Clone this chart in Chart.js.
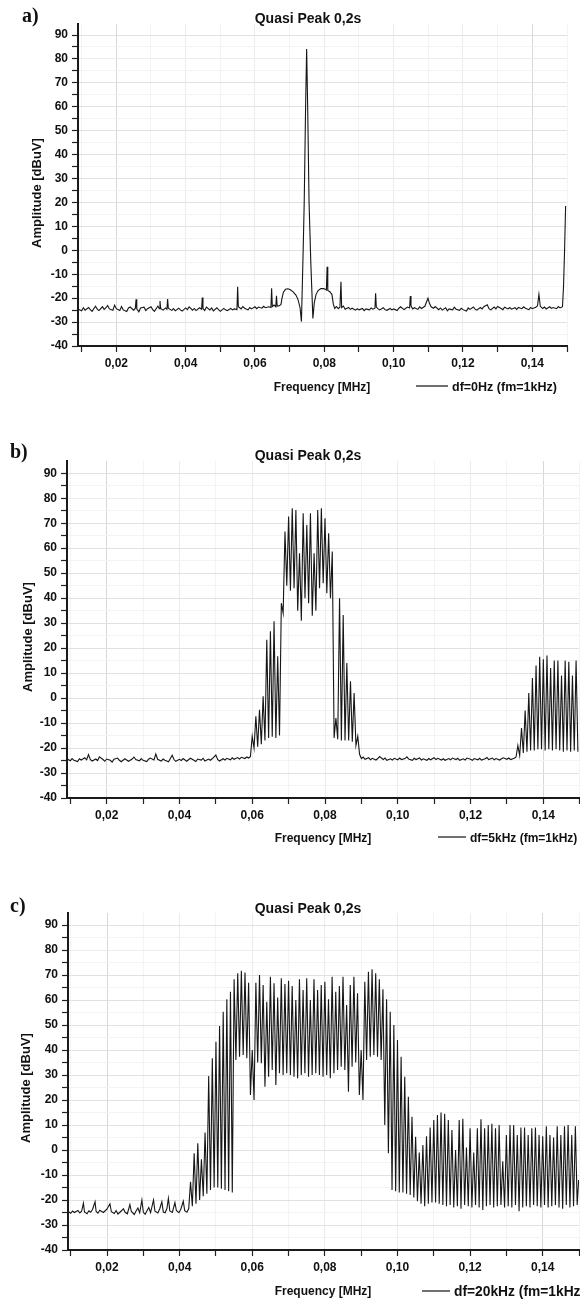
<!DOCTYPE html>
<html>
<head>
<meta charset="utf-8">
<script src="https://cdn.jsdelivr.net/npm/chart.js@4.4.1/dist/chart.umd.min.js"></script>
<style>
  body { margin: 0; background: #fff; }
  .panel { position: absolute; left: 0; width: 580px; }
  canvas { display: block; }
</style>
</head>
<body>
<div class="panel" style="top:0px"><canvas id="chartA" width="580" height="400"></canvas></div>
<div class="panel" style="top:430px"><canvas id="chartB" width="580" height="430"></canvas></div>
<div class="panel" style="top:860px"><canvas id="chartC" width="580" height="443"></canvas></div>
<script>
// texts
const titleText = 'Quasi Peak 0,2s';
const xTitle = 'Frequency [MHz]';
const yTitle = 'Amplitude [dBuV]';
const seriesNames = ['df=0Hz (fm=1kHz)', 'df=5kHz (fm=1kHz)', 'df=20kHz (fm=1kHz)'];

// axis ticks (labels only on every second one)
const xTickVals = [0.01, 0.02, 0.03, 0.04, 0.05, 0.06, 0.07, 0.08, 0.09, 0.10, 0.11, 0.12, 0.13, 0.14, 0.15];
const yTickVals = [-40, -35, -30, -25, -20, -15, -10, -5, 0, 5, 10, 15, 20, 25, 30, 35, 40, 45, 50, 55, 60, 65, 70, 75, 80, 85, 90];

// a) df=0Hz  -- frequency [MHz], amplitude [dBuV]
const freqA = [
  0.0090, 0.0100, 0.0105, 0.0110, 0.0120, 0.0125, 0.0130, 0.0140, 0.0145, 0.0150,
  0.0160, 0.0165, 0.0170, 0.0175, 0.0180, 0.0190, 0.0195, 0.0200, 0.0210, 0.0215,
  0.0220, 0.0230, 0.0235, 0.0240, 0.0250, 0.0255, 0.0257, 0.0259, 0.0265, 0.0270,
  0.0280, 0.0285, 0.0290, 0.0300, 0.0305, 0.0310, 0.0320, 0.0324, 0.0326, 0.0328,
  0.0335, 0.0342, 0.0346, 0.0348, 0.0350, 0.0360, 0.0365, 0.0370, 0.0380, 0.0385,
  0.0390, 0.0400, 0.0405, 0.0410, 0.0420, 0.0425, 0.0430, 0.0440, 0.0446, 0.0448,
  0.0450, 0.0455, 0.0460, 0.0470, 0.0475, 0.0480, 0.0490, 0.0495, 0.0500, 0.0510,
  0.0515, 0.0520, 0.0530, 0.0535, 0.0540, 0.0548, 0.0550, 0.0552, 0.0560, 0.0565,
  0.0570, 0.0580, 0.0585, 0.0590, 0.0600, 0.0605, 0.0610, 0.0620, 0.0625, 0.0630,
  0.0640, 0.0646, 0.0648, 0.0650, 0.0655, 0.0660, 0.0662, 0.0664, 0.0670, 0.0675,
  0.0678, 0.0682, 0.0688, 0.0695, 0.0702, 0.0710, 0.0718, 0.0724, 0.0730, 0.0734,
  0.0739, 0.0742, 0.0746, 0.0749, 0.0752, 0.0756, 0.0761, 0.0767, 0.0771, 0.0776,
  0.0782, 0.0790, 0.0798, 0.0804, 0.0806, 0.0808, 0.0810, 0.0816, 0.0822, 0.0826,
  0.0830, 0.0835, 0.0840, 0.0845, 0.0848, 0.0850, 0.0855, 0.0860, 0.0870, 0.0875,
  0.0880, 0.0890, 0.0895, 0.0900, 0.0910, 0.0915, 0.0920, 0.0930, 0.0935, 0.0940,
  0.0946, 0.0948, 0.0950, 0.0955, 0.0960, 0.0970, 0.0975, 0.0980, 0.0990, 0.0995,
  0.1000, 0.1010, 0.1015, 0.1020, 0.1030, 0.1035, 0.1040, 0.1046, 0.1048, 0.1050,
  0.1055, 0.1060, 0.1070, 0.1075, 0.1080, 0.1090, 0.1095, 0.1099, 0.1103, 0.1108,
  0.1115, 0.1120, 0.1130, 0.1135, 0.1140, 0.1150, 0.1155, 0.1160, 0.1170, 0.1175,
  0.1180, 0.1190, 0.1195, 0.1200, 0.1210, 0.1215, 0.1220, 0.1230, 0.1235, 0.1240,
  0.1250, 0.1255, 0.1260, 0.1270, 0.1275, 0.1280, 0.1290, 0.1295, 0.1300, 0.1310,
  0.1315, 0.1320, 0.1330, 0.1335, 0.1340, 0.1350, 0.1355, 0.1360, 0.1370, 0.1375,
  0.1380, 0.1390, 0.1395, 0.1400, 0.1410, 0.1415, 0.1419, 0.1423, 0.1430, 0.1435,
  0.1440, 0.1450, 0.1455, 0.1460, 0.1470, 0.1475, 0.1480, 0.1487, 0.1490, 0.1493,
  0.1496
];
const ampA = [
  -24.6, -25.3, -24.0, -25.0, -23.9, -24.8, -25.5, -23.4, -24.6, -25.2,
  -23.6, -24.7, -24.0, -23.1, -24.5, -25.1, -22.9, -24.4, -25.2, -23.5,
  -24.9, -25.6, -24.1, -23.7, -25.0, -24.2, -20.5, -24.5, -25.7, -24.1,
  -23.8, -25.2, -24.4, -23.6, -24.8, -25.5, -23.3, -24.4, -21.2, -24.3,
  -25.0, -24.1, -24.6, -20.4, -24.2, -25.1, -24.4, -25.3, -24.2, -24.9,
  -25.4, -24.1, -24.8, -23.6, -25.0, -24.3, -25.2, -24.0, -24.6, -19.7,
  -24.3, -25.2, -23.7, -24.9, -24.1, -25.3, -24.0, -24.8, -25.5, -24.3,
  -24.9, -25.2, -24.3, -24.9, -24.5, -24.8, -15.2, -23.6, -24.5, -23.5,
  -24.2, -24.9, -23.9, -24.5, -23.6, -24.4, -23.7, -24.2, -23.4, -24.0,
  -23.6, -23.9, -15.9, -23.5, -22.9, -23.6, -19.0, -23.3, -23.2, -22.6,
  -20.0, -17.5, -16.3, -16.1, -16.5, -17.4, -18.7, -20.5, -24.0, -29.8,
  0.0, 20.0, 60.0, 84.1, 60.0, 20.0, -5.0, -28.5, -22.0, -18.5,
  -16.8, -16.0, -16.0, -16.4, -16.6, -6.9, -16.8, -17.3, -18.5, -22.5,
  -24.3, -23.5, -24.4, -23.8, -13.1, -23.9, -23.3, -24.6, -23.9, -24.7,
  -24.2, -25.0, -24.4, -24.9, -24.3, -25.2, -24.5, -24.9, -24.1, -24.6,
  -24.2, -18.0, -23.7, -24.5, -24.9, -24.0, -24.8, -25.1, -24.3, -24.9,
  -24.5, -25.2, -24.2, -23.6, -24.8, -24.2, -23.7, -24.1, -19.1, -23.2,
  -24.5, -24.0, -24.7, -23.6, -24.3, -23.4, -21.5, -20.0, -22.0, -23.6,
  -24.2, -23.5, -24.8, -24.1, -25.0, -24.0, -25.3, -24.5, -24.9, -23.8,
  -24.6, -25.1, -24.2, -24.8, -25.4, -24.1, -24.7, -23.7, -24.6, -25.0,
  -23.9, -24.5, -23.6, -22.8, -24.4, -24.9, -23.7, -24.5, -23.5, -24.3,
  -24.8, -23.8, -24.5, -23.9, -24.6, -24.0, -24.7, -23.9, -24.4, -23.6,
  -24.2, -24.8, -23.9, -24.4, -23.8, -23.2, -18.4, -23.4, -24.3, -23.7,
  -24.5, -23.6, -24.3, -23.9, -24.4, -23.5, -24.1, -23.6, -15.0, 0.0,
  18.5
];

// b) df=5kHz
const freqB = [
  0.0091, 0.0100, 0.0105, 0.0110, 0.0120, 0.0125, 0.0130, 0.0140, 0.0145, 0.0150,
  0.0155, 0.0160, 0.0170, 0.0175, 0.0180, 0.0190, 0.0195, 0.0200, 0.0210, 0.0215,
  0.0220, 0.0230, 0.0235, 0.0240, 0.0250, 0.0255, 0.0260, 0.0270, 0.0275, 0.0280,
  0.0290, 0.0295, 0.0300, 0.0310, 0.0315, 0.0320, 0.0330, 0.0335, 0.0340, 0.0350,
  0.0355, 0.0360, 0.0370, 0.0375, 0.0380, 0.0385, 0.0390, 0.0400, 0.0405, 0.0410,
  0.0420, 0.0425, 0.0430, 0.0440, 0.0445, 0.0450, 0.0460, 0.0465, 0.0470, 0.0480,
  0.0485, 0.0490, 0.0500, 0.0505, 0.0510, 0.0520, 0.0525, 0.0530, 0.0540, 0.0545,
  0.0550, 0.0560, 0.0565, 0.0570, 0.0580, 0.0585, 0.0590, 0.0595, 0.0600, 0.0605,
  0.0610, 0.0615, 0.0620, 0.0625, 0.0630, 0.0635, 0.0640, 0.0645, 0.0650, 0.0655,
  0.0660, 0.0665, 0.0670, 0.0675, 0.0680, 0.0685, 0.0690, 0.0695, 0.0700, 0.0705,
  0.0710, 0.0715, 0.0720, 0.0725, 0.0730, 0.0735, 0.0740, 0.0745, 0.0750, 0.0755,
  0.0760, 0.0765, 0.0770, 0.0775, 0.0780, 0.0785, 0.0790, 0.0795, 0.0800, 0.0805,
  0.0810, 0.0815, 0.0820, 0.0825, 0.0830, 0.0835, 0.0840, 0.0845, 0.0850, 0.0855,
  0.0860, 0.0865, 0.0870, 0.0875, 0.0880, 0.0885, 0.0890, 0.0895, 0.0900, 0.0905,
  0.0910, 0.0920, 0.0925, 0.0930, 0.0940, 0.0945, 0.0950, 0.0960, 0.0965, 0.0970,
  0.0980, 0.0985, 0.0990, 0.1000, 0.1005, 0.1010, 0.1020, 0.1025, 0.1030, 0.1040,
  0.1045, 0.1050, 0.1060, 0.1065, 0.1070, 0.1080, 0.1085, 0.1090, 0.1100, 0.1105,
  0.1110, 0.1120, 0.1125, 0.1130, 0.1140, 0.1145, 0.1150, 0.1160, 0.1165, 0.1170,
  0.1180, 0.1185, 0.1190, 0.1200, 0.1205, 0.1210, 0.1220, 0.1225, 0.1230, 0.1240,
  0.1245, 0.1250, 0.1260, 0.1265, 0.1270, 0.1280, 0.1285, 0.1290, 0.1300, 0.1305,
  0.1310, 0.1320, 0.1325, 0.1330, 0.1335, 0.1340, 0.1345, 0.1350, 0.1355, 0.1360,
  0.1365, 0.1370, 0.1375, 0.1380, 0.1385, 0.1390, 0.1395, 0.1400, 0.1405, 0.1410,
  0.1415, 0.1420, 0.1425, 0.1430, 0.1435, 0.1440, 0.1445, 0.1450, 0.1455, 0.1460,
  0.1465, 0.1470, 0.1475, 0.1480, 0.1485, 0.1490, 0.1495
];
const ampB = [
  -24.3, -25.1, -24.2, -24.9, -25.4, -24.3, -24.8, -23.9, -24.7, -22.6,
  -24.6, -25.2, -24.4, -25.0, -23.5, -24.6, -25.3, -24.4, -24.9, -25.6,
  -24.5, -24.0, -24.9, -25.5, -24.3, -24.8, -25.3, -24.4, -23.6, -24.6,
  -25.1, -24.2, -24.9, -25.4, -24.5, -24.0, -24.8, -22.4, -24.5, -25.2,
  -24.4, -24.9, -25.5, -24.2, -22.9, -24.6, -25.3, -24.5, -25.0, -24.2,
  -25.3, -24.7, -24.1, -24.9, -25.4, -24.4, -24.8, -24.1, -25.2, -24.4,
  -24.9, -24.3, -22.8, -24.6, -25.2, -24.3, -24.8, -24.1, -24.7, -23.9,
  -24.5, -23.8, -24.4, -23.7, -24.2, -23.6, -24.0, -23.5, -15.3, -20.0,
  -7.3, -19.5, -4.7, -18.5, 0.7, -17.0, 23.3, -16.0, 26.7, -15.5,
  30.7, -16.0, 16.7, -15.0, 38.0, 34.0, 66.7, 45.0, 72.7, 43.0,
  76.0, 44.0, 75.3, 35.0, 58.0, 31.0, 74.0, 40.0, 69.3, 38.0,
  74.0, 33.0, 58.0, 35.0, 75.3, 44.0, 76.0, 46.0, 72.0, 42.0,
  66.0, 40.0, 58.7, -16.0, -8.0, -16.5, 40.0, -17.0, 33.3, -17.0,
  14.0, -17.0, 6.7, -17.5, 2.0, -19.0, -15.3, -22.5, -24.2, -23.6,
  -24.5, -23.9, -24.7, -24.1, -24.8, -24.2, -23.4, -24.6, -24.0, -24.9,
  -24.3, -24.8, -24.1, -24.7, -24.0, -24.6, -24.2, -23.5, -24.4, -24.9,
  -24.1, -24.6, -24.0, -24.8, -24.3, -24.9, -24.2, -24.7, -23.9, -24.6,
  -24.1, -24.8, -24.3, -24.9, -24.2, -24.7, -24.0, -24.6, -24.1, -24.9,
  -24.3, -24.8, -24.0, -24.5, -24.9, -24.2, -24.7, -24.1, -24.8, -24.3,
  -23.8, -24.6, -24.0, -24.7, -24.2, -24.8, -24.3, -23.9, -24.5, -24.0,
  -24.6, -24.1, -23.6, -19.0, -23.0, -12.0, -22.0, -5.0, -21.5, 2.0,
  -21.0, 8.0, -21.0, 13.0, -20.5, 16.5, -20.5, 15.5, -21.0, 17.0,
  -20.5, 12.0, -21.0, 15.0, -20.5, 15.0, -21.0, 9.0, -21.5, 15.0,
  -21.0, 14.5, -21.5, 9.0, -21.0, 15.0, -21.5
];

// c) df=20kHz
const freqC = [
  0.0093, 0.0100, 0.0105, 0.0110, 0.0120, 0.0125, 0.0130, 0.0135, 0.0138, 0.0145,
  0.0150, 0.0155, 0.0160, 0.0167, 0.0170, 0.0175, 0.0180, 0.0190, 0.0195, 0.0200,
  0.0208, 0.0212, 0.0220, 0.0225, 0.0230, 0.0240, 0.0245, 0.0250, 0.0256, 0.0263,
  0.0267, 0.0275, 0.0280, 0.0285, 0.0290, 0.0296, 0.0300, 0.0305, 0.0310, 0.0315,
  0.0320, 0.0328, 0.0332, 0.0340, 0.0345, 0.0351, 0.0355, 0.0360, 0.0365, 0.0369,
  0.0373, 0.0380, 0.0387, 0.0391, 0.0398, 0.0403, 0.0410, 0.0414, 0.0420, 0.0425,
  0.0430, 0.0435, 0.0440, 0.0445, 0.0450, 0.0455, 0.0460, 0.0465, 0.0470, 0.0475,
  0.0480, 0.0485, 0.0490, 0.0495, 0.0500, 0.0505, 0.0510, 0.0515, 0.0520, 0.0525,
  0.0530, 0.0535, 0.0540, 0.0545, 0.0550, 0.0555, 0.0560, 0.0565, 0.0570, 0.0575,
  0.0580, 0.0585, 0.0590, 0.0595, 0.0600, 0.0605, 0.0610, 0.0615, 0.0620, 0.0625,
  0.0630, 0.0635, 0.0640, 0.0645, 0.0650, 0.0655, 0.0660, 0.0665, 0.0670, 0.0675,
  0.0680, 0.0685, 0.0690, 0.0695, 0.0700, 0.0705, 0.0710, 0.0715, 0.0720, 0.0725,
  0.0730, 0.0735, 0.0740, 0.0745, 0.0750, 0.0755, 0.0760, 0.0765, 0.0770, 0.0775,
  0.0780, 0.0785, 0.0790, 0.0795, 0.0800, 0.0805, 0.0810, 0.0815, 0.0820, 0.0825,
  0.0830, 0.0835, 0.0840, 0.0845, 0.0850, 0.0855, 0.0860, 0.0865, 0.0870, 0.0875,
  0.0880, 0.0885, 0.0890, 0.0895, 0.0900, 0.0905, 0.0910, 0.0915, 0.0920, 0.0925,
  0.0930, 0.0935, 0.0940, 0.0945, 0.0950, 0.0955, 0.0960, 0.0965, 0.0970, 0.0975,
  0.0980, 0.0985, 0.0990, 0.0995, 0.1000, 0.1005, 0.1010, 0.1015, 0.1020, 0.1025,
  0.1030, 0.1035, 0.1040, 0.1045, 0.1050, 0.1055, 0.1060, 0.1065, 0.1070, 0.1075,
  0.1080, 0.1085, 0.1090, 0.1095, 0.1100, 0.1105, 0.1110, 0.1115, 0.1120, 0.1125,
  0.1130, 0.1135, 0.1140, 0.1145, 0.1150, 0.1155, 0.1160, 0.1165, 0.1170, 0.1175,
  0.1180, 0.1185, 0.1190, 0.1195, 0.1200, 0.1205, 0.1210, 0.1215, 0.1220, 0.1225,
  0.1230, 0.1235, 0.1240, 0.1245, 0.1250, 0.1255, 0.1260, 0.1265, 0.1270, 0.1275,
  0.1280, 0.1285, 0.1290, 0.1295, 0.1300, 0.1305, 0.1310, 0.1315, 0.1320, 0.1325,
  0.1330, 0.1335, 0.1340, 0.1345, 0.1350, 0.1355, 0.1360, 0.1365, 0.1370, 0.1375,
  0.1380, 0.1385, 0.1390, 0.1395, 0.1400, 0.1405, 0.1410, 0.1415, 0.1420, 0.1425,
  0.1430, 0.1435, 0.1440, 0.1445, 0.1450, 0.1455, 0.1460, 0.1465, 0.1470, 0.1475,
  0.1480, 0.1485, 0.1490, 0.1495, 0.1499
];
const ampC = [
  -24.6, -25.3, -24.4, -25.0, -24.2, -25.2, -24.5, -21.3, -24.8, -25.5,
  -24.3, -24.9, -23.8, -20.7, -24.6, -25.3, -24.1, -25.0, -24.3, -23.6,
  -21.5, -24.7, -25.4, -24.2, -25.6, -24.3, -23.5, -24.9, -25.5, -21.8,
  -24.6, -25.8, -24.4, -23.2, -25.1, -20.0, -24.9, -25.7, -24.3, -23.0,
  -25.0, -20.0, -24.5, -25.2, -23.6, -20.7, -24.8, -25.1, -23.4, -19.3,
  -24.4, -25.0, -21.0, -24.2, -25.1, -23.8, -20.5, -24.3, -24.9, -23.5,
  -12.7, -22.5, -1.3, -21.5, 2.7, -20.0, -3.7, -18.5, 7.0, -17.5,
  29.6, -16.0, 36.7, -15.0, 43.3, -15.0, 49.6, -15.5, 55.3, -16.0,
  60.3, -16.5, 63.3, -17.0, 68.3, 36.0, 70.7, 37.3, 71.7, 38.0,
  71.0, 36.7, 66.9, 22.0, 40.0, 20.0, 66.9, 35.0, 70.0, 34.7,
  66.0, 25.3, 59.3, 29.3, 69.3, 32.0, 66.7, 26.0, 61.0, 30.7,
  68.7, 30.0, 66.4, 30.7, 67.7, 30.0, 65.6, 29.3, 60.0, 28.7,
  68.3, 30.0, 64.0, 30.7, 68.7, 29.3, 60.0, 30.0, 68.3, 30.7,
  64.0, 30.0, 66.0, 29.3, 67.3, 30.0, 60.3, 28.7, 69.3, 30.7,
  63.3, 32.0, 65.6, 33.3, 69.3, 32.0, 58.0, 23.3, 66.0, 33.3,
  69.3, 35.0, 62.7, 22.0, 40.0, 20.0, 67.3, 36.0, 71.3, 37.3,
  72.3, 38.0, 70.7, 37.3, 68.3, 36.0, 64.3, 10.0, 60.3, -1.3,
  55.3, -16.0, 50.0, -16.5, 44.0, -17.0, 37.3, -17.0, 29.3, -17.5,
  21.3, -18.0, 13.3, -19.0, 5.3, -20.5, -1.0, -21.5, 2.0, -22.5,
  5.5, -21.5, 9.0, -21.0, 12.0, -21.0, 14.0, -21.5, 15.0, -22.0,
  14.5, -22.5, 12.0, -22.0, 8.0, -23.0, 0.0, -22.5, 12.0, -23.5,
  12.5, -22.0, 1.0, -22.5, 8.7, -23.0, -1.0, -22.0, 8.7, -23.0,
  12.3, -24.0, 8.7, -22.5, 10.0, -22.0, 10.5, -23.0, 8.7, -22.5,
  10.0, -22.0, -4.5, -23.0, 6.0, -22.5, 10.0, -23.0, 10.0, -22.0,
  6.0, -24.5, 9.0, -23.0, 9.0, -22.5, 6.0, -23.0, 8.7, -22.0,
  9.0, -22.5, 6.0, -23.0, 5.5, -22.0, 9.5, -23.0, 6.0, -22.5,
  5.0, -22.0, 9.5, -23.0, 6.0, -23.5, 9.5, -22.0, 10.0, -23.0,
  6.0, -22.5, 9.5, -22.0, -12.0
];

// grid colours: major lines light grey, minor ones barely visible
function xGridColor(c) {
  if (!c.tick) return 'rgba(0,0,0,0)';
  const k = Math.round(c.tick.value * 100);
  if (k === 2 || k === 14) return '#d8d8d8';
  if (k % 2 === 0) return '#ebebeb';
  return '#f4f4f4';
}
function yGridColor(c) {
  if (!c.tick) return 'rgba(0,0,0,0)';
  const v = c.tick.value;
  if (v % 10 === 0) return v === 80 ? '#ededed' : '#e1e1e1';
  return '#f3f3f3';
}

// draws panel letter, title, axis titles and the legend line
const panelText = {
  id: 'panelText',
  afterDraw(chart, args, o) {
    const ctx = chart.ctx;
    ctx.save();
    ctx.fillStyle = '#111';
    ctx.textBaseline = 'alphabetic';

    ctx.font = 'bold 20px "Liberation Serif"';
    ctx.textAlign = 'left';
    ctx.fillText(o.letter, o.letterX, o.letterY);

    ctx.font = 'bold 14px "Liberation Sans"';
    ctx.textAlign = 'center';
    ctx.fillText(titleText, o.titleX, o.titleY);

    ctx.font = 'bold 12px "Liberation Sans"';
    ctx.fillText(xTitle, o.xTitleX, o.xTitleY);

    ctx.strokeStyle = '#111';
    ctx.lineWidth = 1.2;
    ctx.beginPath();
    ctx.moveTo(o.legX1, o.legY);
    ctx.lineTo(o.legX2, o.legY);
    ctx.stroke();
    ctx.font = 'bold ' + o.legSize + 'px "Liberation Sans"';
    ctx.textAlign = 'left';
    ctx.fillText(chart.data.datasets[0].label, o.legX2 + 4, o.legTextY);

    ctx.translate(o.yTitleX, o.yTitleY);
    ctx.rotate(-Math.PI / 2);
    ctx.font = 'bold 13px "Liberation Sans"';
    ctx.textAlign = 'center';
    ctx.textBaseline = 'middle';
    ctx.fillText(yTitle, 0, 0);
    ctx.restore();
  }
};

const tickFont = { family: 'Liberation Sans', size: 12, weight: 'bold' };

function makeChart(id, freq, amp, name, g, t) {
  const pts = freq.map((f, i) => ({ x: f, y: amp[i] }));
  return new Chart(document.getElementById(id), {
    type: 'line',
    data: {
      datasets: [{
        label: name,
        data: pts,
        borderColor: '#161616',
        borderWidth: 1.1,
        pointRadius: 0,
        tension: 0,
        fill: false
      }]
    },
    options: {
      responsive: false,
      animation: false,
      devicePixelRatio: 1,
      layout: { padding: { top: g.top, right: g.right, bottom: g.bottom, left: 0 } },
      plugins: {
        legend: { display: false },
        tooltip: { enabled: false },
        title: { display: false },
        panelText: t
      },
      scales: {
        x: {
          type: 'linear',
          min: g.xMin,
          max: g.xMax,
          afterBuildTicks: s => { s.ticks = xTickVals.map(v => ({ value: v })); },
          afterFit: s => { s.height = 30; s.paddingLeft = 0; s.paddingRight = 0; },
          ticks: {
            autoSkip: false, maxRotation: 0, padding: 4, color: '#111', font: tickFont,
            callback: v => (Math.round(v * 100) % 2 === 0 ? v.toFixed(2).replace('.', ',') : '')
          },
          grid: { color: xGridColor, lineWidth: 1, tickLength: 6, tickColor: '#222', tickWidth: 1.2 },
          border: { color: '#1a1a1a', width: 2 }
        },
        y: {
          min: -40,
          max: g.yMax,
          afterBuildTicks: s => { s.ticks = yTickVals.map(v => ({ value: v })); },
          afterFit: s => { s.width = g.left; s.paddingTop = 0; s.paddingBottom = 0; },
          ticks: {
            autoSkip: false, padding: 4, color: '#111', font: tickFont,
            callback: v => (v % 10 === 0 ? String(v) : '')
          },
          grid: { color: yGridColor, lineWidth: 1, tickLength: 6, tickColor: '#222', tickWidth: 1.2 },
          border: { color: '#1a1a1a', width: 2 }
        }
      }
    },
    plugins: [panelText]
  });
}

makeChart('chartA', freqA, ampA, seriesNames[0],
  { top: 24, right: 13, bottom: 24, left: 78, xMin: 0.00895, xMax: 0.15, yMax: 94.6 },
  { letter: 'a)', letterX: 22, letterY: 22, titleX: 308, titleY: 23, xTitleX: 322, xTitleY: 391,
    legX1: 416, legX2: 448, legY: 386, legTextY: 391, legSize: 12.5, yTitleX: 37, yTitleY: 193 });

makeChart('chartB', freqB, ampB, seriesNames[1],
  { top: 31, right: 1, bottom: 32, left: 67, xMin: 0.0091, xMax: 0.1498, yMax: 94.9 },
  { letter: 'b)', letterX: 10, letterY: 28, titleX: 308, titleY: 30, xTitleX: 323, xTitleY: 412,
    legX1: 438, legX2: 466, legY: 407, legTextY: 411.5, legSize: 12, yTitleX: 28, yTitleY: 207 });

makeChart('chartC', freqC, ampC, seriesNames[2],
  { top: 53, right: 1, bottom: 23, left: 68, xMin: 0.00925, xMax: 0.15, yMax: 94.8 },
  { letter: 'c)', letterX: 10, letterY: 52, titleX: 308, titleY: 53, xTitleX: 323, xTitleY: 435,
    legX1: 422, legX2: 450, legY: 431, legTextY: 435.5, legSize: 13.8, yTitleX: 26, yTitleY: 228 });
</script>
</body>
</html>
